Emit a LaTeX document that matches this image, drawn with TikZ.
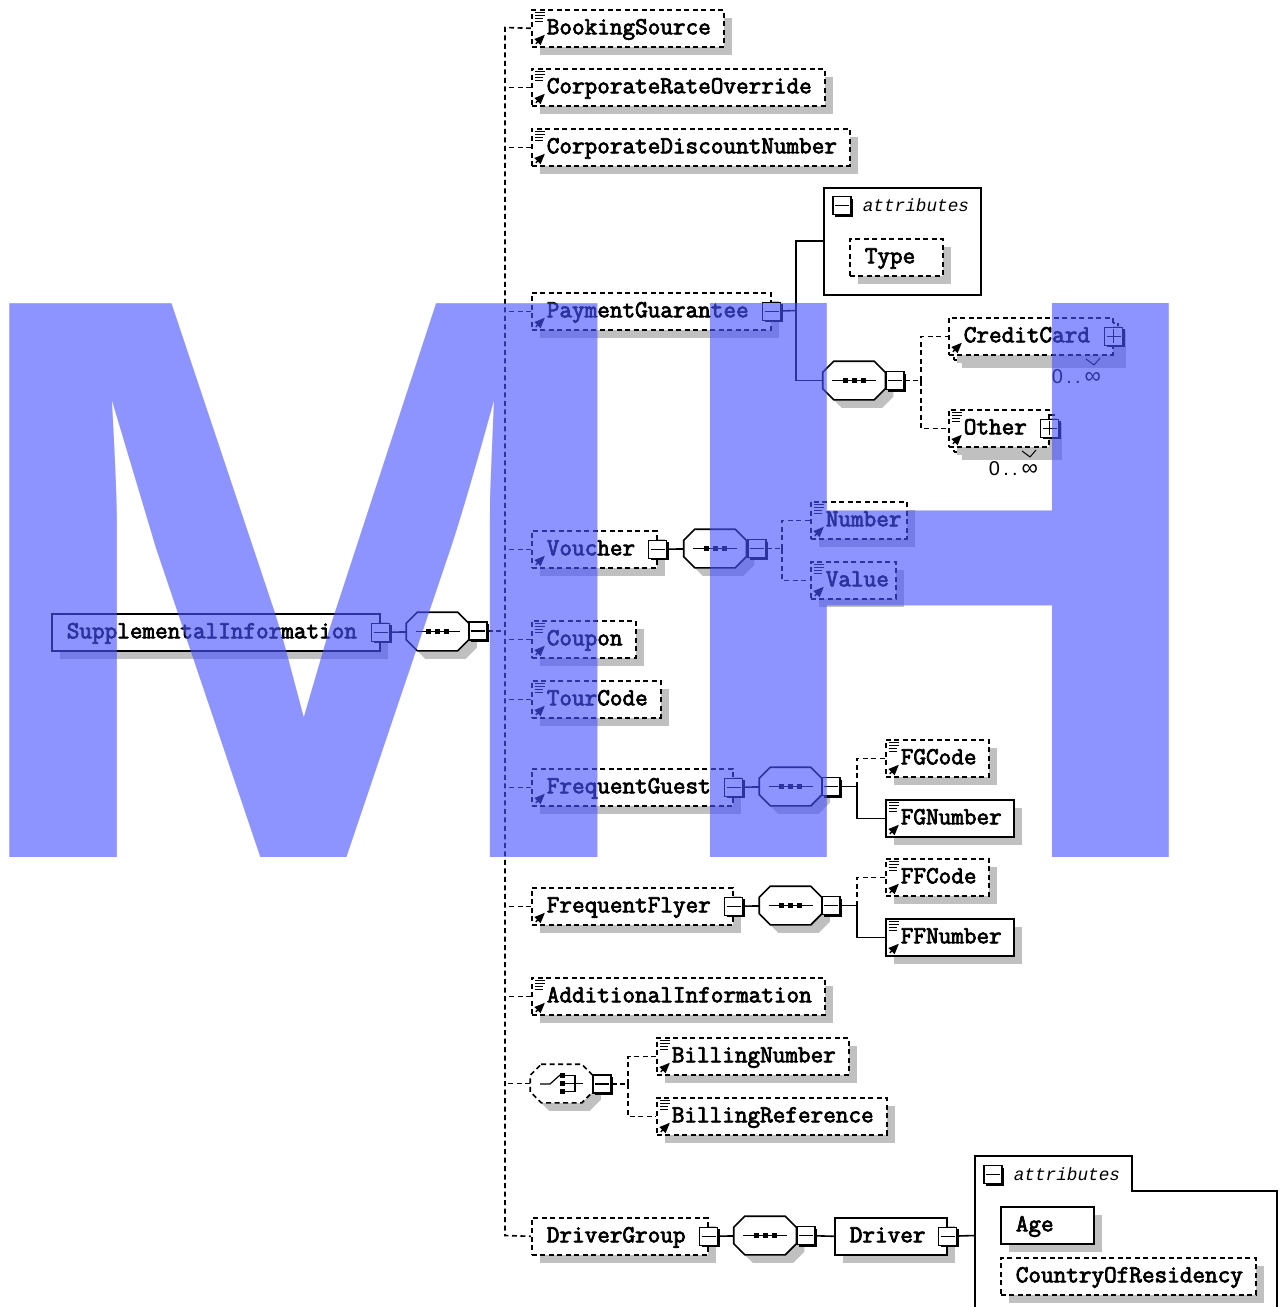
\documentclass[tikz,border=0pt]{standalone}
\usepackage{fontspec}
\newfontfamily\occfont{Liberation Sans}
\newfontfamily\bigfont{TeX Gyre Heros}
\newfontfamily\attrfont{Liberation Mono}
\newfontfamily\elemfont[FakeBold=3]{Latin Modern Mono}
\usepackage{tikz}
\usetikzlibrary{arrows,shapes,shadows}
\definecolor{shadowgray}{RGB}{192,192,192}
\definecolor{markblue}{RGB}{72,82,255}

\begin{document}
\begin{tikzpicture}[x=1pt,y=-1pt,line width=1.6pt]
                \def\octapath{([xshift=11pt]\tikzlastnode.north west) -- ([xshift=-11pt]\tikzlastnode.north east) -- ([yshift=-11pt]\tikzlastnode.north east) -- ([yshift=11pt]\tikzlastnode.south east) -- ([xshift=-11pt]\tikzlastnode.south east) -- ([xshift=11pt]\tikzlastnode.south west) -- ([yshift=11pt]\tikzlastnode.south west) -- ([yshift=-11pt]\tikzlastnode.north west) -- cycle}
                \tikzstyle{dashline}=[dash pattern=on 5pt off 3.5pt]
                \tikzstyle{grayshadow}=[drop shadow={shadow xshift=8pt,shadow yshift=-8pt,fill=shadowgray,opacity=1}]
                \tikzstyle{blackshadow}=[drop shadow={shadow xshift=2pt,shadow yshift=-2pt,fill=black,opacity=1}]
                \tikzstyle{elem}=[rectangle,draw,fill=white,grayshadow,anchor=north west,minimum height=37pt,inner xsep=4pt,inner ysep=0pt,text height=12pt,text depth=0pt,align=left,font=\fontsize{24.5}{24}\selectfont\elemfont,execute at begin node={\hspace*{11pt}}]
                \tikzstyle{optelem}=[elem,dashline]
                \tikzstyle{refmark}=[path picture={\draw[solid,black,line width=1.4pt,-triangle 45] ([shift={(4pt,3pt)}]path picture bounding box.south west) -- ++(9pt,9pt);}]
                \tikzstyle{docmark}=[path picture={
                    \draw[solid,black,line width=1.4pt,-triangle 45] ([shift={(4pt,3pt)}]path picture bounding box.south west) -- ++(9pt,9pt);
                    \draw[solid,line width=1pt] ([shift={(3pt,-3pt)}]path picture bounding box.north west) -- ++(10pt,0pt);
                    \draw[solid,line width=1pt] ([shift={(3pt,-6pt)}]path picture bounding box.north west) -- ++(10pt,0pt);
                    \draw[solid,line width=1pt] ([shift={(3pt,-9pt)}]path picture bounding box.north west) -- ++(8pt,0pt);
                    \draw[solid,line width=1pt] ([shift={(3pt,-12pt)}]path picture bounding box.north west) -- ++(8pt,0pt);}]
                \tikzstyle{togglebox}=[rectangle,draw,fill=white,blackshadow,minimum size=18pt,inner sep=0pt]
                \tikzstyle{minusbox}=[togglebox,path picture={\draw[line width=1.2pt] ([xshift=-7pt]path picture bounding box.center) -- ++(14pt,0pt);}]
                \tikzstyle{plusbox}=[togglebox,path picture={\draw[line width=1.2pt] ([xshift=-7pt]path picture bounding box.center) -- ++(14pt,0pt);
                    \draw[line width=1.2pt] ([yshift=-7pt]path picture bounding box.center) -- ++(0pt,14pt);}]
                \tikzstyle{octabase}=[rectangle,minimum width=61pt,minimum height=37pt,inner sep=0pt]
                \tikzstyle{seqbox}=[octabase,append after command={\pgfextra{
                    \fill[shadowgray,transform canvas={xshift=8pt,yshift=-8pt}] \octapath;
                    \filldraw[fill=white] \octapath;
                    \draw[line width=1.2pt] ([xshift=-22pt]\tikzlastnode.center) -- ([xshift=22pt]\tikzlastnode.center);
                    \fill ([shift={(-11.5pt,-2.5pt)}]\tikzlastnode.center) rectangle ++(5pt,5pt);
                    \fill ([shift={(-2.5pt,-2.5pt)}]\tikzlastnode.center) rectangle ++(5pt,5pt);
                    \fill ([shift={(6.5pt,-2.5pt)}]\tikzlastnode.center) rectangle ++(5pt,5pt);}}]
                \tikzstyle{choicebox}=[octabase,append after command={\pgfextra{
                    \fill[shadowgray,transform canvas={xshift=8pt,yshift=-8pt}] \octapath;
                    \filldraw[fill=white,dashline] \octapath;}}]
                \tikzstyle{attrtitle}=[anchor=west,inner sep=0pt,font=\fontsize{17.7}{18}\selectfont\attrfont\itshape]
                \tikzstyle{occurs}=[anchor=west,inner sep=0pt,font=\fontsize{20}{20}\selectfont\occfont]
                \tikzstyle{wmark}=[anchor=base west,inner sep=0pt,markblue,opacity=.62]

                \useasboundingbox (0,0) rectangle (1286,1307);

                % root
                \node[elem,text width=320pt] (supp) at (51,613) {SupplementalInformation};
                \node[minusbox] (suppmin) at (supp.east) {};
                \node[seqbox] (rootseq) at (437.5,631.5) {};
                \node[minusbox] (rootmin) at (478,631) {};
                \coordinate (bustop) at (505,27.5);
                \coordinate (busbot) at (505,1235.5);

                % first column
                \node[optelem,docmark,text width=184pt] (booking) at (531,9) {BookingSource};
                \node[optelem,docmark,text width=285pt] (rateover) at (531,68) {CorporateRateOverride};
                \node[optelem,docmark,text width=310pt] (discount) at (531,128) {CorporateDiscountNumber};
                \node[optelem,refmark,text width=231pt] (payguar) at (531,292) {PaymentGuarantee};
                \node[optelem,refmark,text width=117pt] (voucher) at (531,530) {Voucher};
                \node[optelem,docmark,text width=96pt] (coupon) at (531,620) {Coupon};
                \node[optelem,docmark,text width=121pt] (tourcode) at (531,680) {TourCode};
                \node[optelem,refmark,text width=193pt] (fguest) at (531,768) {FrequentGuest};
                \node[optelem,refmark,text width=193pt] (fflyer) at (531,887) {FrequentFlyer};
                \node[optelem,docmark,text width=285pt] (addinfo) at (531,977) {AdditionalInformation};
                \node[choicebox] (choice) at (561.5,1083.5) {};
                \node[optelem,text width=168pt] (drvgroup) at (531,1217) {DriverGroup};

                \draw[dashline] (booking.west) -- (bustop) -- (busbot) -- (drvgroup.west);
                \draw[dashline] (rootmin.east) -- (bustop |- rootmin.east);
                \draw[dashline] (rateover.west) -- (bustop |- rateover.west);
                \draw[dashline] (discount.west) -- (bustop |- discount.west);
                \draw[dashline] (payguar.west) -- (bustop |- payguar.west);
                \draw[dashline] (voucher.west) -- (bustop |- voucher.west);
                \draw[dashline] (coupon.west) -- (bustop |- coupon.west);
                \draw[dashline] (tourcode.west) -- (bustop |- tourcode.west);
                \draw[dashline] (fguest.west) -- (bustop |- fguest.west);
                \draw[dashline] (fflyer.west) -- (bustop |- fflyer.west);
                \draw[dashline] (addinfo.west) -- (bustop |- addinfo.west);
                \draw[dashline] (choice.west) -- (bustop |- choice.west);
                \draw (suppmin) -- (rootseq);

                % payment guarantee
                \node[minusbox] (paymin) at (payguar.east) {};
                \node[rectangle,draw,anchor=north west,minimum width=157pt,minimum height=107pt,inner sep=0pt] (payattr) at (823,187) {};
                \node[minusbox] (payattrmin) at (842,205.5) {};
                \node[attrtitle] (payattrtitle) at (862,205) {attributes};
                \node[optelem,text width=85pt] (type) at (849,238) {Type};
                \node[seqbox] (payseq) at (854,380.5) {};
                \node[minusbox] (payseqmin) at (895,380.5) {};
                \coordinate (paybr) at (796,310.5);
                \coordinate (paysel) at (921,380.5);
                \draw (paymin) -- (paybr);
                \draw (paybr) |- (payattr.west |- 0,241);
                \draw (paybr) |- (payseq.west);
                \draw[dashline] (payseqmin) -- (paysel);
                \node[optelem,text width=156pt] (creditback) at (953,322) {};
                \node[optelem,refmark,text width=156pt,drop shadow={opacity=0}] (credit) at (948,317) {CreditCard};
                \node[plusbox] (creditplus) at (credit.east) {};
                \node[occurs] (creditocc) at (1051,377) {0\,.\,.\hspace{4pt}\scalebox{1.15}{∞}};
                \node[optelem,text width=92pt] (otherback) at (953,414) {};
                \node[optelem,docmark,text width=92pt,drop shadow={opacity=0}] (other) at (948,409) {Other};
                \node[plusbox] (otherplus) at (other.east) {};
                \node[occurs] (otherocc) at (988,469) {0\,.\,.\hspace{4pt}\scalebox{1.15}{∞}};
                \draw[dashline] (paysel) |- (credit.west);
                \draw[dashline] (paysel) |- (other.west);
                \draw[line width=1pt] (1086,359) -- (1094,365) -- (1100,358);
                \draw[line width=1pt] (1022,451) -- (1030,457) -- (1036,450);

                % voucher
                \node[minusbox] (voumin) at (voucher.east) {};
                \node[seqbox] (vouseq) at (715,548.5) {};
                \node[minusbox] (vouseqmin) at (757,548.5) {};
                \coordinate (voubr) at (782,548.5);
                \node[optelem,docmark,text width=88pt] (number) at (810,501) {Number};
                \node[optelem,docmark,text width=77pt] (value) at (810,561) {Value};
                \draw (voumin) -- (vouseq);
                \draw[dashline] (vouseqmin) -- (voubr);
                \draw[dashline] (voubr) |- (number.west);
                \draw[dashline] (voubr) |- (value.west);

                % frequent guest
                \node[minusbox] (guestmin) at (fguest.east) {};
                \node[seqbox] (guestseq) at (790.5,786.5) {};
                \node[minusbox] (guestseqmin) at (831,786.5) {};
                \coordinate (guestbr) at (857,786.5);
                \node[optelem,docmark,text width=95pt] (fgcode) at (885,739) {FGCode};
                \node[elem,docmark,text width=120pt] (fgnumber) at (885,799) {FGNumber};
                \draw (guestmin) -- (guestseq);
                \draw (guestseqmin) -- (guestbr);
                \draw[dashline] (guestbr) |- (fgcode.west);
                \draw (guestbr) |- (fgnumber.west);

                % frequent flyer
                \node[minusbox] (flyermin) at (fflyer.east) {};
                \node[seqbox] (flyerseq) at (790.5,905.5) {};
                \node[minusbox] (flyerseqmin) at (831,905.5) {};
                \coordinate (flyerbr) at (857,905.5);
                \node[optelem,docmark,text width=95pt] (ffcode) at (885,858) {FFCode};
                \node[elem,docmark,text width=120pt] (ffnumber) at (885,918) {FFNumber};
                \draw (flyermin) -- (flyerseq);
                \draw (flyerseqmin) -- (flyerbr);
                \draw[dashline] (flyerbr) |- (ffcode.west);
                \draw (flyerbr) |- (ffnumber.west);

                % billing choice
                \node[minusbox] (choicemin) at (602,1084) {};
                \coordinate (choicebr) at (628,1084);
                \coordinate (switchA) at (540,1084);
                \coordinate (switchM) at (550,1084);
                \coordinate (switchB) at (560,1075);
                \coordinate (forkA) at (575,1084);
                \draw[line width=1.2pt] (switchA) -- (switchM) -- (switchB);
                \fill (559.5,1073) rectangle ++(5,5);
                \fill (559.5,1081) rectangle ++(5,5);
                \fill (559.5,1089) rectangle ++(5,5);
                \draw[line width=1.2pt] (564,1075.5) -| (forkA) |- (564,1091.5);
                \draw[line width=1.2pt] (564,1083.5) -- (583,1083.5);
                \node[optelem,docmark,text width=184pt] (billnum) at (656,1037) {BillingNumber};
                \node[optelem,docmark,text width=222pt] (billref) at (656,1097) {BillingReference};
                \draw[dashline] (choicemin) -- (choicebr);
                \draw[dashline] (choicebr) |- (billnum.west);
                \draw[dashline] (choicebr) |- (billref.west);

                % driver group
                \node[minusbox] (groupmin) at (drvgroup.east) {};
                \node[seqbox] (groupseq) at (765,1235.5) {};
                \node[minusbox] (groupseqmin) at (806,1235.5) {};
                \node[elem,text width=104pt] (driverbox) at (834,1217) {Driver};
                \node[minusbox] (drivermin) at (driverbox.east) {};
                \coordinate (drvattr) at (975,1235.5);
                \draw (groupmin) -- (groupseq);
                \draw (groupseqmin) -- (driverbox.west);
                \draw (drivermin) -- (drvattr);
                \draw (975,1320) -- (975,1156) -- (1132,1156) -- (1132,1191) -- (1277,1191) -- (1277,1320);
                \node[minusbox] (drvattrmin) at (993,1174.5) {};
                \node[attrtitle] (drvattrtitle) at (1013,1174) {attributes};
                \node[elem,text width=85pt] (age) at (1000,1206) {Age};
                \node[optelem,text width=247pt] (residency) at (1000,1257) {CountryOfResidency};

                % big letters
                \node[wmark,font=\fontsize{805}{805}\selectfont\occfont\bfseries] (bigm) at (-47,857) {\scalebox{1.045}[1]{M}};
                \node[wmark,font=\fontsize{760}{760}\selectfont\bigfont\bfseries] (bigh) at (657,857) {\scalebox{1.025}[1]{H}};
\end{tikzpicture}
\end{document}
